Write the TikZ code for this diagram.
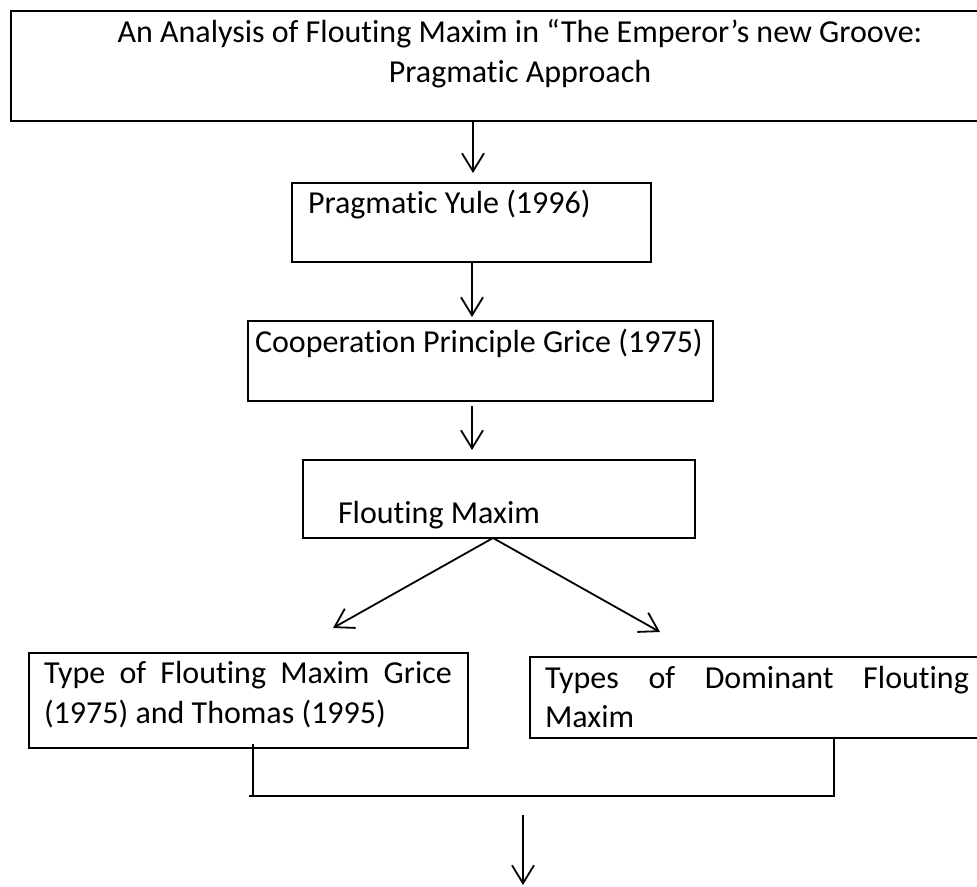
\documentclass[tikz,border=0pt]{standalone}
\usepackage{fontspec}
\setmainfont{Carlito}[Ligatures={NoCommon}]
\usetikzlibrary{arrows.meta,calc}
\tikzset{
  box/.style={draw=black, line width=2pt, rectangle, inner sep=0pt, outer sep=0pt},
  txt/.style={inner sep=0pt, outer sep=0pt, font=\fontsize{32}{38}\selectfont},
  arr/.style={line width=1.8pt, -{Straight Barb[length=18pt,width=22pt,line width=1.8pt]}},
  conn/.style={line width=1.8pt}
}
\begin{document}
\begin{tikzpicture}[x=1pt,y=-1pt]
\useasboundingbox (0,0) rectangle (977,886);
\clip (0,0) rectangle (977,886);
% boxes
\node[box, line width=2.7pt, minimum width=979pt, minimum height=110pt] (title) at (500.5,66) {};
\node[box, minimum width=359pt, minimum height=79pt] (yule) at (471.5,222.5) {};
\node[box, minimum width=465pt, minimum height=80pt] (coop) at (480.5,361) {};
\node[box, line width=1.4pt, minimum width=392pt, minimum height=78pt] (flout) at (499,499) {};
\node[box, minimum width=439pt, minimum height=95pt] (left) at (248.5,700.5) {};
\node[box, line width=2.4pt, minimum width=465pt, minimum height=81pt] (right) at (762.5,697.5) {};
% texts
\node[txt, anchor=base] (t1) at (520,42) {An Analysis of Flouting Maxim in “The Emperor’s new Groove:};
\node[txt, anchor=base] (t2) at (520,82) {Pragmatic Approach};
\node[txt, anchor=base west] (tyule) at (308,213) {Pragmatic Yule (1996)};
\node[txt, anchor=base west] (tcoop) at (255,352) {Cooperation Principle Grice (1975)};
\node[txt, anchor=base west] (tflout) at (338,523) {Flouting Maxim};
\node[txt, anchor=base west] (tl1) at (44,683) {\hbox to 408pt{Type\hfill of\hfill Flouting\hfill Maxim\hfill Grice}};
\node[txt, anchor=base west] (tl2) at (44,723) {(1975) and Thomas (1995)};
\node[txt, anchor=base west] (tr1) at (545,688) {\hbox to 424pt{Types\hfill of\hfill Dominant\hfill Flouting}};
\node[txt, anchor=base west] (tr2) at (545,727) {Maxim};
% connectors
\coordinate (a1) at (473,173);
\coordinate (a2) at (472,317);
\coordinate (a3) at (472,450);
\coordinate (fs) at (493,538);
\coordinate (dl) at (333,628);
\coordinate (dr) at (660,632);
\coordinate (lj) at (253,796);
\coordinate (rj) at (834,796);
\coordinate (fa) at (523,815);
\coordinate (fe) at (523,885);
\draw[arr] (title.south -| a1) -- (a1);
\draw[arr] (yule.south -| a2) -- (a2);
\draw[arr] ($(coop.south -| a3)+(0,5)$) -- (a3);
\draw[arr] (fs) -- (dl);
\draw[arr] (fs) -- (dr);
\draw[conn] ($(left.south -| lj)+(0,-4)$) -- (lj);
\draw[conn] ($(lj)+(-4,0)$) -- (rj) -- (right.south -| rj);
\draw[arr] (fa) -- (fe);
\end{tikzpicture}
\end{document}
